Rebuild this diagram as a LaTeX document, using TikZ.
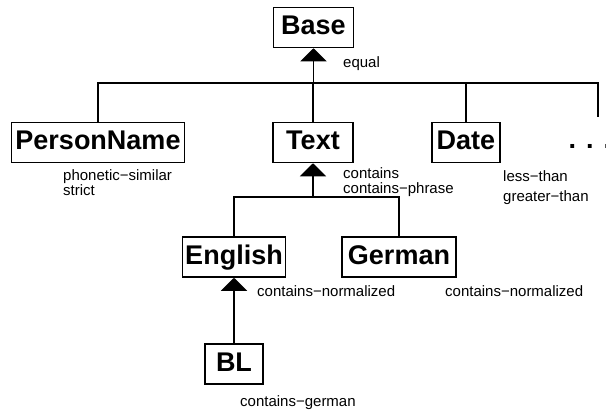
\documentclass[tikz,border=0pt]{standalone}
\usepackage{fontspec}
\setmainfont{Liberation Sans}
\usetikzlibrary{arrows.meta}
\tikzset{
% Two node styles for the type hierarchy: boxed types and their predicates
type node/.style={draw,line width=1.5pt,inner sep=0,minimum height=40,
  text height=20,text depth=6,font=\bfseries\fontsize{27}{30}\selectfont},
pred node/.style={anchor=base west,inner sep=0,align=left,
  font=\fontsize{15}{15}\selectfont},
link/.style={line width=1.8pt},
isa/.style={link,-{Triangle[width=26pt,length=13pt]}}
}

\begin{document}
\begin{tikzpicture}[x=1pt,y=-1pt]
  \useasboundingbox (0,0) rectangle (606,410);
  % types
  \node[type node, minimum width=80] (base) at (313.5,27.5) {Base};
  \node[type node, minimum width=173] (person) at (98,142.5) {PersonName};
  \node[type node, minimum width=80] (text) at (313,142.5) {Text};
  \node[type node, minimum width=68] (date) at (466,142.5) {Date};
  \node[type node, draw=none] (more) at (590,141) {. . .};
  \node[type node, minimum width=103] (english) at (234,257) {English};
  \node[type node, minimum width=114] (german) at (399,257) {German};
  \node[type node, minimum width=58] (bl) at (234,364) {BL};
  % predicates (base = baseline of the last line)
  \node[pred node] (equal) at (343,67) {equal};
  \node[pred node] (phon) at (63,195) {phonetic−similar\\strict};
  \node[pred node] (cont) at (343,193) {contains\\contains−phrase};
  \node[pred node] (less) at (503,201) {less−than\\[5pt]greater−than};
  \node[pred node] (engnorm) at (257,296) {contains−normalized};
  \node[pred node] (gernorm) at (445,296) {contains−normalized};
  \node[pred node] (blgerm) at (240,406) {contains−german};
  % connectors
  \coordinate (top) at (313.5,83);
  \coordinate (moreend) at (598,117);
  \coordinate (mid) at (313,197);
  \draw[isa] (top) -- (base);
  \draw[link] (person.north) |- (top) -| (moreend);
  \draw[link] (text.north) -- (top -| text.north);
  \draw[link] (date.north) -- (date.north |- top);
  \draw[isa] (mid) -- (text);
  \draw[link] (english.north) |- (mid) -| (german.north);
  \draw[isa] (bl) -- (english);
\end{tikzpicture}
\end{document}
